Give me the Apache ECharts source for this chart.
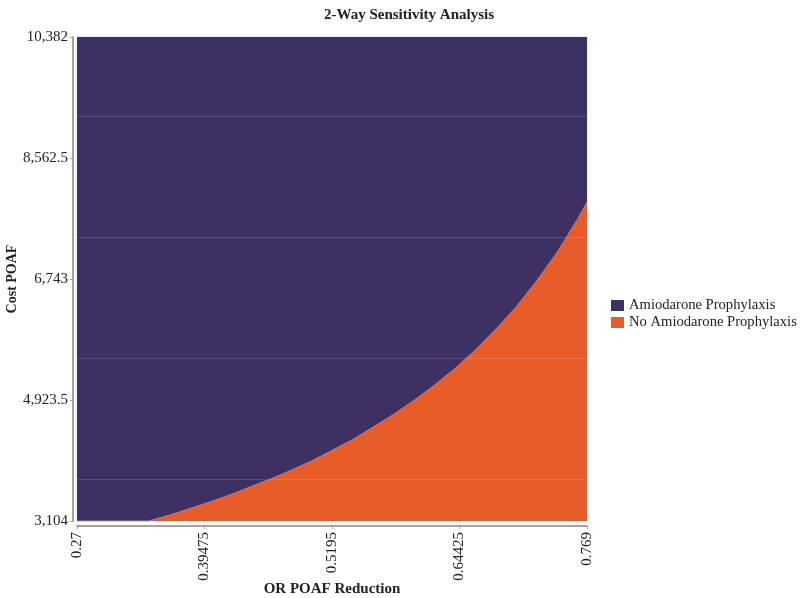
<!DOCTYPE html>
<html>
<head>
<meta charset="utf-8">
<script src="https://cdn.jsdelivr.net/npm/echarts@6/dist/echarts.min.js"></script>
<style>html,body{margin:0;padding:0;background:#fff;}#c{width:800px;height:598px;}</style>
</head>
<body>
<div id="c"></div>
<script>
// ---- data ----
const xValues = [0.27, 0.34, 0.36, 0.38, 0.40, 0.42, 0.44, 0.46, 0.48, 0.50, 0.52, 0.54, 0.56, 0.58, 0.60, 0.62, 0.64, 0.66, 0.68, 0.70, 0.72, 0.74, 0.76, 0.769];
const boundaryCost = [3104, 3104, 3190, 3290, 3390, 3500, 3620, 3740, 3870, 4010, 4170, 4330, 4520, 4710, 4920, 5150, 5400, 5680, 5990, 6330, 6720, 7150, 7650, 7900];
const xTicks = [0.27, 0.39475, 0.5195, 0.64425, 0.769];
const yTicks = [3104, 4923.5, 6743, 8562.5, 10382];
const gridValues = [3735, 5555, 7375, 9195];
const seriesNames = ['Amiodarone Prophylaxis', 'No Amiodarone Prophylaxis'];

const xMin = xTicks[0], xMax = xTicks[xTicks.length - 1];
const yMin = yTicks[0], yMax = yTicks[yTicks.length - 1];

const topData = [[xMin, yMax], [xMax, yMax]];
const orangeData = xValues.map((x, i) => [x, boundaryCost[i]]);

const serif = 'Liberation Serif';
const chart = echarts.init(document.getElementById('c'));
chart.setOption({
  animation: false,
  title: {
    text: '2-Way Sensitivity Analysis',
    left: 404, top: 3, textAlign: 'center',
    textStyle: { fontFamily: serif, fontSize: 15, fontWeight: 'bold', color: '#222' }
  },
  legend: {
    orient: 'vertical', left: 606, top: 293, itemGap: 2,
    itemWidth: 13, itemHeight: 11, icon: 'rect',
    data: seriesNames,
    textStyle: { fontFamily: serif, fontSize: 14.6, color: '#222' }
  },
  grid: {
    left: 77, right: 213, top: 37, bottom: 77,
    containLabel: false, outerBoundsMode: 'none',
    show: true, borderColor: '#dddbe9', borderWidth: 1, backgroundColor: 'transparent'
  },
  xAxis: {
    type: 'value', min: xMin, max: xMax, offset: 5,
    name: 'OR POAF Reduction', nameLocation: 'middle', nameGap: 56, nameMoveOverlap: false,
    nameTextStyle: { fontFamily: serif, fontSize: 15, fontWeight: 'bold', color: '#222' },
    axisLine: { show: true, lineStyle: { color: '#a9a29a', width: 2 } },
    axisTick: { show: true, customValues: xTicks, length: 3, lineStyle: { color: '#a9a29a' } },
    axisLabel: { customValues: xTicks, rotate: 90, margin: 6, fontFamily: serif, fontSize: 15, color: '#222',
      formatter: v => String(v) },
    splitLine: { show: false }
  },
  yAxis: {
    type: 'value', min: yMin, max: yMax, offset: 4,
    name: 'Cost POAF', nameLocation: 'middle', nameGap: 54, nameMoveOverlap: false,
    nameTextStyle: { fontFamily: serif, fontSize: 14, fontWeight: 'bold', color: '#222' },
    axisLine: { show: true, lineStyle: { color: '#a9a29a', width: 2 } },
    axisTick: { show: true, customValues: yTicks, length: 3, lineStyle: { color: '#a9a29a' } },
    axisLabel: { customValues: yTicks, margin: 5, fontFamily: serif, fontSize: 15, color: '#222',
      formatter: v => v.toLocaleString('en-US', { maximumFractionDigits: 2 }) },
    splitLine: { show: false }
  },
  series: [
    {
      name: seriesNames[0], type: 'line', data: topData, symbol: 'none',
      color: '#3c3162',
      lineStyle: { width: 0 },
      areaStyle: { color: '#3c3162', opacity: 1, origin: 'start' },
      z: 1
    },
    {
      name: seriesNames[1], type: 'line', data: orangeData, symbol: 'none',
      color: '#e85c2a', smooth: false,
      lineStyle: { width: 1, color: '#8f88c6' },
      areaStyle: { color: '#e85c2a', opacity: 1, origin: 'start' },
      markLine: {
        silent: true, symbol: ['none', 'none'], label: { show: false },
        lineStyle: { color: 'rgba(255,255,255,0.13)', type: 'solid', width: 1 },
        data: gridValues.map(v => ({ yAxis: v }))
      },
      z: 2
    }
  ]
});
</script>
</body>
</html>
